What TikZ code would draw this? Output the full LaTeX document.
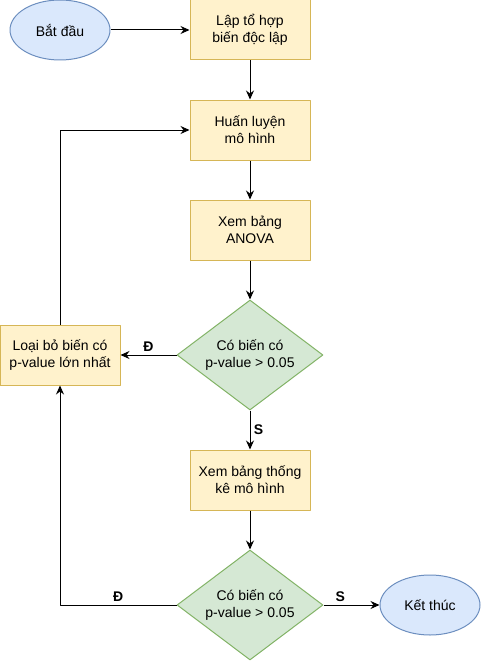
\documentclass[tikz,border=0pt]{standalone}
\usepackage{fontspec}
\setmainfont{Liberation Sans}
\usetikzlibrary{shapes.geometric,arrows.meta}
\definecolor{procfill}{HTML}{FFF2CC}
\definecolor{procline}{HTML}{D6B656}
\definecolor{termfill}{HTML}{DAE8FC}
\definecolor{termline}{HTML}{6C8EBF}
\definecolor{decfill}{HTML}{D5E8D4}
\definecolor{decline}{HTML}{82B366}
\tikzset
{
  process/.style={draw=procline,fill=procfill,line width=1pt,minimum width=120,minimum height=60,align=center,font=\fontsize{14}{17}\selectfont},
  terminal/.style={ellipse,draw=termline,fill=termfill,line width=1pt,minimum width=100,minimum height=60,font=\fontsize{14}{17}\selectfont},
  decision/.style={diamond,draw=decline,fill=decfill,line width=1pt,aspect=1.33,inner sep=0pt,minimum width=146,minimum height=110,align=center,font=\fontsize{14}{17}\selectfont},
  flow/.style={line width=1pt,-{Stealth[length=9pt,width=8pt,inset=3pt]}},
  answer/.style={font=\fontsize{14}{16}\selectfont\bfseries}
}

\begin{document}
\begin{tikzpicture}[x=1pt,y=-1pt,line join=round]
  \useasboundingbox (0,0) rectangle (481,661);
  % nodes
  \node[terminal] (start)   at (60,30)   {Bắt đầu};
  \node[process]  (vars)    at (250,30)  {Lập tổ hợp\\biến độc lập};
  \node[process]  (train)   at (250,130) {Huấn luyện\\mô hình};
  \node[process]  (anova)   at (250,230) {Xem bảng\\ANOVA};
  \node[decision] (check1)  at (250,355) {Có biến có\\p-value > 0.05};
  \node[process]  (remove)  at (60,355)  {Loại bỏ biến có\\p-value lớn nhất};
  \node[process]  (summary) at (250,480) {Xem bảng thống\\kê mô hình};
  \node[decision] (check2)  at (250,605) {Có biến có\\p-value > 0.05};
  \node[terminal] (stop)    at (430,605) {Kết thúc};
  % connectors
  \draw[flow] (start) -- (vars);
  \draw[flow] (vars) -- (train);
  \draw[flow] (train) -- (anova);
  \draw[flow] (anova) -- (check1);
  \draw[flow] (check1) -- node[answer,above] {Đ} (remove);
  \draw[flow] (remove.north) |- (train.west);
  \draw[flow] (check1) -- node[answer,right] {S} (summary);
  \draw[flow] (summary) -- (check2);
  \draw[flow] (check2.west) -| node[answer,above,pos=0.25] {Đ} (remove.south);
  \draw[flow] (check2) -- node[answer,above,pos=0.3] {S} (stop);
\end{tikzpicture}
\end{document}
